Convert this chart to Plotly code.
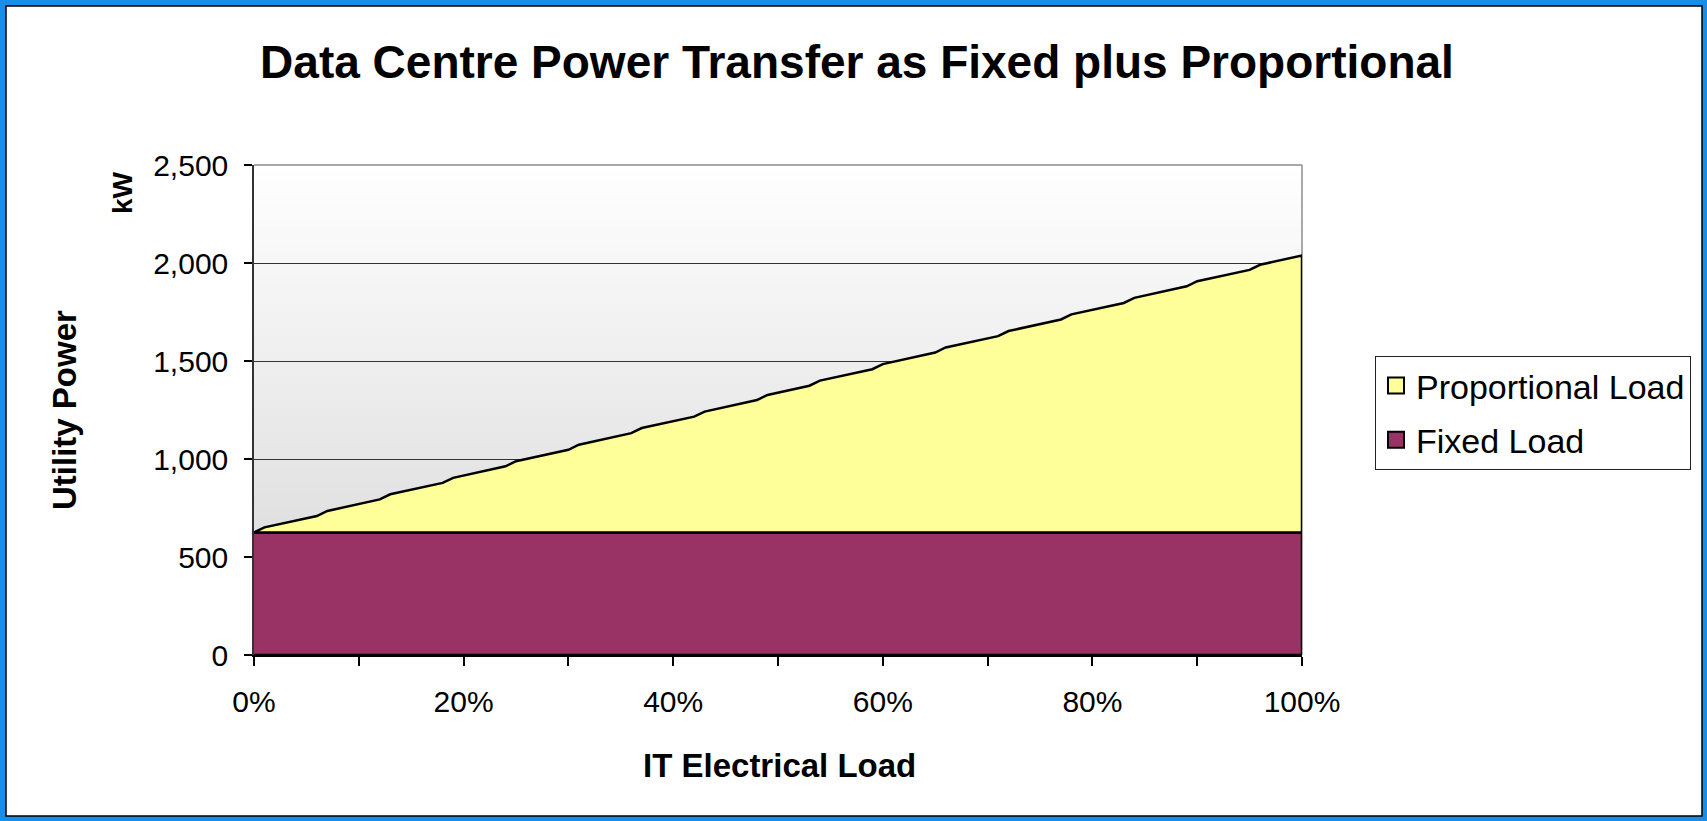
import plotly.graph_objects as go

# ---------------- data ----------------
it_load_pct = [0, 1, 6, 7, 12, 13, 18, 19, 24, 25, 30, 31, 36, 37, 42, 43, 48, 49,
               53, 54, 59, 60, 65, 66, 71, 72, 77, 78, 83, 84, 89, 90, 95, 96, 100]
proportional_kw = [0, 26, 84, 110, 169, 195, 253, 279, 338, 364, 422, 448, 507, 533,
                   591, 617, 676, 702, 749, 775, 833, 859, 918, 944, 1002, 1028, 1087,
                   1113, 1171, 1197, 1256, 1282, 1340, 1366, 1413]
fixed_kw = [625] * len(it_load_pct)

x_tick_vals = [0, 10, 20, 30, 40, 50, 60, 70, 80, 90, 100]
x_tick_text = ["0%", "", "20%", "", "40%", "", "60%", "", "80%", "", "100%"]
y_tick_vals = [0, 500, 1000, 1500, 2000, 2500]

series_names = ["Proportional Load", "Fixed Load"]
title_text = "Data Centre Power Transfer as Fixed plus Proportional"

# ---------------- styling ----------------
W, H = 1707, 821
L, R, T, B = 254, 1302, 165, 655          # plot area in pixels
PW, PH = R - L, B - T
FONT = "Liberation Sans, Arial, Helvetica, sans-serif"
PROP_COLOR = "#FFFF99"
FIXED_COLOR = "#993366"
BLUE = "#1A8EE6"


def px_x(px):
    return (px - L) / PW


def px_y(py):
    return (B - py) / PH


total_kw = [f + p for f, p in zip(fixed_kw, proportional_kw)]

fig = go.Figure()

# Fixed load polygon (from 0 up to the fixed level)
fig.add_trace(go.Scatter(
    x=it_load_pct + [it_load_pct[-1], it_load_pct[0]],
    y=fixed_kw + [0, 0],
    fill="toself", fillcolor=FIXED_COLOR, mode="lines",
    line=dict(color="black", width=2.5),
    name=series_names[1], showlegend=False, hoverinfo="skip"))

# Proportional load polygon (stacked on top of fixed)
fig.add_trace(go.Scatter(
    x=it_load_pct + it_load_pct[::-1],
    y=total_kw + fixed_kw[::-1],
    fill="toself", fillcolor=PROP_COLOR, mode="lines",
    line=dict(color="black", width=2.5),
    name=series_names[0], showlegend=False, hoverinfo="skip"))

# legend entries
for nm, col, grp in [(series_names[0], PROP_COLOR, "a"), (series_names[1], FIXED_COLOR, "b")]:
    fig.add_trace(go.Scatter(
        x=[None], y=[None], mode="markers", name=nm, legendgroup=grp,
        marker=dict(symbol="square", size=16, color=col, line=dict(color="black", width=2))))

shapes = []
# white chart area with thin black border inside the blue frame
shapes.append(dict(type="rect", xref="paper", yref="paper",
                   x0=px_x(6), x1=px_x(1702), y0=px_y(816), y1=px_y(6),
                   fillcolor="white", line=dict(color="black", width=1.5), layer="below"))
# gradient plot background
nb = 60
top_c, bot_c = 255, 214
for i in range(nb):
    c = round(top_c + (bot_c - top_c) * (i + 0.5) / nb)
    shapes.append(dict(type="rect", xref="paper", yref="paper",
                       x0=0, x1=1, y0=1 - (i + 1) / nb, y1=1 - i / nb + 0.002,
                       fillcolor=f"rgb({c},{c},{c})", line=dict(width=0), layer="below"))
# grey top / right border
shapes.append(dict(type="line", xref="paper", yref="paper", x0=0, x1=1, y0=1, y1=1,
                   line=dict(color="#8c8c8c", width=1.5), layer="above"))
shapes.append(dict(type="line", xref="paper", yref="paper", x0=1, x1=1, y0=0, y1=1,
                   line=dict(color="#8c8c8c", width=1.5), layer="below"))

annotations = [
    dict(text="<b>Utility Power</b>", xref="paper", yref="paper", x=px_x(64), y=0.5,
         xanchor="center", yanchor="middle", textangle=-90, showarrow=False,
         font=dict(family=FONT, size=33, color="black")),
    dict(text="<b>kW</b>", xref="paper", yref="paper", x=px_x(122), y=px_y(193),
         xanchor="center", yanchor="middle", textangle=-90, showarrow=False,
         font=dict(family=FONT, size=28, color="black")),
    dict(text="<b>IT Electrical Load</b>", xref="paper", yref="paper", x=px_x(779), y=px_y(765),
         xanchor="center", yanchor="middle", showarrow=False,
         font=dict(family=FONT, size=33, color="black")),
]

fig.update_layout(
    width=W, height=H,
    margin=dict(l=L, r=W - R, t=T, b=H - B, pad=0),
    paper_bgcolor=BLUE,
    plot_bgcolor="rgba(0,0,0,0)",
    font=dict(family=FONT, color="black"),
    title=dict(text=f"<b>{title_text}</b>", x=857 / W, xref="container", xanchor="center",
               y=1 - 62 / H, yref="container", yanchor="middle",
               font=dict(family=FONT, size=46, color="black")),
    xaxis=dict(range=[0, 100], tickvals=x_tick_vals, ticktext=x_tick_text,
               ticks="outside", ticklen=9, tickcolor="black", tickwidth=1.5,
               showline=True, linecolor="black", linewidth=1.5, showgrid=False,
               zeroline=False, ticklabelstandoff=10, tickfont=dict(size=30)),
    yaxis=dict(range=[0, 2500], tickvals=y_tick_vals, tickformat=",",
               ticks="outside", ticklen=8, tickcolor="black", tickwidth=1.5,
               showline=True, linecolor="#333333", linewidth=1.5,
               showgrid=True, gridcolor="#333333", gridwidth=1,
               zeroline=False, ticklabelstandoff=10, tickfont=dict(size=30)),
    legend=dict(x=px_x(1375), y=px_y(356), xanchor="left", yanchor="top",
                bgcolor="white", bordercolor="#222222", borderwidth=1,
                font=dict(family=FONT, size=34, color="black"),
                tracegroupgap=7, itemclick=False, itemdoubleclick=False),
    shapes=shapes,
    annotations=annotations,
    showlegend=True,
)

fig.write_html("out.html", config={"displayModeBar": False},
               post_script="document.body.style.margin='0px';")
